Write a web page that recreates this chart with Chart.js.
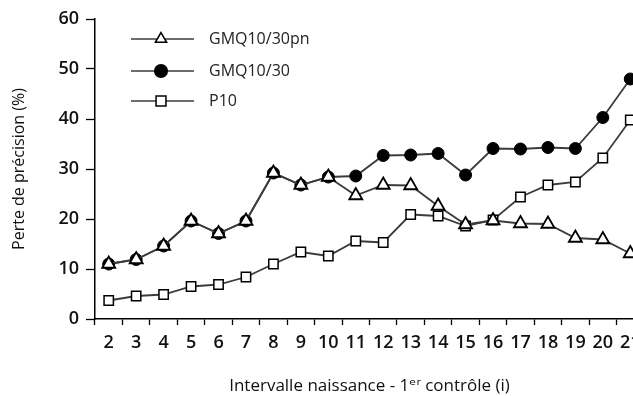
<!DOCTYPE html>
<html>
<head>
<meta charset="utf-8">
<script src="https://cdn.jsdelivr.net/npm/chart.js@4/dist/chart.umd.min.js"></script>
<style>
  body { margin: 0; background: #fff; overflow: hidden; }
  #wrap { width: 660px; height: 396px; }
</style>
</head>
<body>
<div id="wrap"><canvas id="myChart" width="660" height="396"></canvas></div>
<script>
// Intervalle naissance - 1er contrôle
const intervals = ["2", "3", "4", "5", "6", "7", "8", "9", "10", "11", "12", "13", "14", "15", "16", "17", "18", "19", "20", "21"];
const gmqPn = [11.0, 11.9, 14.6, 19.6, 17.1, 19.6, 29.2, 26.8, 28.4, 24.7, 26.8, 26.7, 22.6, 18.9, 19.7, 19.1, 19.0, 16.2, 15.9, 13.1];
const gmq = [11.0, 11.9, 14.6, 19.6, 17.1, 19.6, 29.2, 26.8, 28.4, 28.6, 32.7, 32.8, 33.1, 28.8, 34.1, 34.0, 34.3, 34.1, 40.3, 48.0];
const p10 = [3.7, 4.6, 4.9, 6.5, 6.9, 8.4, 11.0, 13.4, 12.6, 15.6, 15.3, 20.9, 20.6, 18.6, 19.8, 24.4, 26.8, 27.4, 32.2, 39.8];
const seriesNames = ["GMQ10/30pn", "GMQ10/30", "P10"];

const fontFam = "'Open Sans', 'DejaVu Sans', sans-serif";
const lineCol = "#3c3c3c";

// legende dessinée à la main : trait + marqueur + texte
const legendPlugin = {
    id: 'lineLegend',
    afterDraw(chart) {
        const ctx = chart.ctx;
        const rows = [39, 71, 101];
        chart.data.datasets.forEach((ds, i) => {
            const y = rows[i];
            ctx.save();
            ctx.strokeStyle = lineCol;
            ctx.lineWidth = 1.5;
            ctx.beginPath();
            ctx.moveTo(131, y);
            ctx.lineTo(194, y);
            ctx.stroke();
            ctx.fillStyle = ds.pointBackgroundColor;
            ctx.strokeStyle = "#000";
            ctx.lineWidth = 1.5;
            Chart.helpers.drawPoint(ctx, {
                pointStyle: ds.pointStyle,
                radius: ds.legendRadius,
                rotation: 0,
                borderWidth: 1.5
            }, 161, y);
            ctx.fillStyle = "#222";
            ctx.font = "16px " + fontFam;
            ctx.textBaseline = "middle";
            ctx.textAlign = "left";
            ctx.fillText(ds.label, 209, y);
            ctx.restore();
        });
    }
};

new Chart("myChart", {
    type: "line",
    data: {
        labels: intervals,
        datasets: [{
            label: seriesNames[0],
            data: gmqPn,
            borderColor: lineCol,
            borderWidth: 1.8,
            pointStyle: "triangle",
            pointRadius: 7.5,
            legendRadius: 6.5,
            pointBackgroundColor: "#fff",
            pointBorderColor: "#000",
            pointBorderWidth: 1.8
        }, {
            label: seriesNames[1],
            data: gmq,
            borderColor: lineCol,
            borderWidth: 1.8,
            pointStyle: "circle",
            pointRadius: 6,
            legendRadius: 6.3,
            pointBackgroundColor: "#000",
            pointBorderColor: "#000",
            pointBorderWidth: 1
        }, {
            label: seriesNames[2],
            data: p10,
            borderColor: lineCol,
            borderWidth: 1.8,
            pointStyle: "rect",
            pointRadius: 6.6,
            legendRadius: 7,
            pointBackgroundColor: "#fff",
            pointBorderColor: "#000",
            pointBorderWidth: 1.5
        }]
    },
    options: {
        responsive: false,
        animation: false,
        layout: { padding: { left: 0, top: 19, right: 16, bottom: 0 } },
        plugins: {
            legend: { display: false },
            tooltip: { enabled: false }
        },
        scales: {
            x: {
                type: "category",
                offset: true,
                afterFit(scale) { scale.height = 77; },
                grid: {
                    offset: true,
                    drawOnChartArea: false,
                    drawTicks: true,
                    tickLength: 6,
                    tickColor: "#000",
                    tickWidth: 1.3
                },
                border: { display: true, color: "#000", width: 1.5 },
                ticks: {
                    color: "#111",
                    padding: 7,
                    maxRotation: 0,
                    autoSkip: false,
                    font: { family: fontFam, size: 18, weight: "600" }
                },
                title: {
                    display: true,
                    text: "Intervalle naissance - 1ᵉʳ contrôle (i)",
                    color: "#111",
                    padding: { top: 0, bottom: 0 },
                    font: { family: fontFam, size: 17 }
                }
            },
            y: {
                min: 0,
                max: 60,
                afterFit(scale) { scale.width = 95; },
                grid: {
                    drawOnChartArea: false,
                    drawTicks: true,
                    tickLength: 9,
                    tickColor: "#000",
                    tickWidth: 1.3
                },
                border: { display: true, color: "#000", width: 1.5 },
                ticks: {
                    stepSize: 10,
                    color: "#111",
                    padding: 7,
                    font: { family: fontFam, size: 18, weight: "600" }
                },
                title: {
                    display: true,
                    text: "Perte de précision (%)",
                    color: "#111",
                    padding: { top: 10, bottom: 0 },
                    font: { family: fontFam, size: 16 }
                }
            }
        }
    },
    plugins: [legendPlugin]
});
</script>
</body>
</html>
